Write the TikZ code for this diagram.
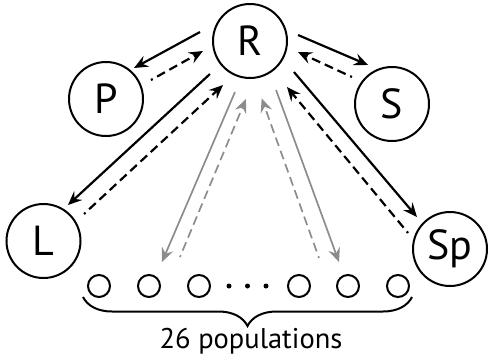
\documentclass[tikz,border=0pt]{standalone}
\usepackage{fontspec}
\setmainfont{PT Sans}
\usetikzlibrary{arrows.meta,decorations.pathreplacing}

\tikzset{
  agent/.style={circle, draw, line width=2pt, minimum size=74pt, inner sep=0pt,
    font=\fontsize{42}{42}\selectfont},
  pop/.style={circle, draw, line width=2pt, minimum size=22pt, inner sep=0pt},
  popdot/.style={circle, fill, minimum size=5pt, inner sep=0pt},
  flow/.style={line width=2.2pt, -{Stealth[length=14pt,width=12pt,inset=5pt]}},
  back/.style={flow, dash pattern=on 9pt off 5pt, dash phase=7pt},
  popflow/.style={flow, line width=1.7pt, draw=black!45},
  popback/.style={back, line width=1.7pt, draw=black!45}
}

\begin{document}
\begin{tikzpicture}[x=1pt, y=-1pt]
    \useasboundingbox (0,0) rectangle (489,362);

    % Resource and the four consumers
    \node[agent] (R) at (250,41) {R};
    \node[agent] (P) at (106,99) {P};
    \node[agent] (S) at (392,104) {S};
    \node[agent] (L) at (43.5,241) {L};
    \node[agent] (Sp) at (450,249) {Sp};

    % Row of populations
    \foreach \x [count=\i] in {99,149,199,299,348,398} {
        \node[pop] (pop\i) at (\x,286) {};
    }
    \foreach \x [count=\i] in {229,247.5,266} {
        \node[popdot] (dot\i) at (\x,286) {};
    }

    % R <-> P
    \draw[flow] ([shift={(169.8:50.8pt)}]R.center) -- ([shift={(47.9:41.8pt)}]P.center);
    \draw[back] ([shift={(22.9:48.8pt)}]P.center) -- ([shift={(192:48.1pt)}]R.center);

    % R <-> S
    \draw[flow] ([shift={(7.1:48.4pt)}]R.center) -- ([shift={(121.6:45.8pt)}]S.center);
    \draw[back] ([shift={(146:48.3pt)}]S.center) -- ([shift={(347.1:49.2pt)}]R.center);

    % R <-> L
    \draw[flow] ([shift={(219.5:51.9pt)}]R.center) -- ([shift={(55.8:43.5pt)}]L.center);
    \draw[back] ([shift={(33.7:48.7pt)}]L.center) -- ([shift={(238.5:51.6pt)}]R.center);

    % R <-> Sp
    \draw[flow] ([shift={(324.8:53.8pt)}]R.center) -- ([shift={(135.9:46pt)}]Sp.center);
    \draw[back] ([shift={(159.1:44.9pt)}]Sp.center) -- ([shift={(308.8:59pt)}]R.center);

    % R <-> populations
    \draw[popflow] ([shift={(253.6:53.2pt)}]R.center) -- ([shift={(61.6:27.3pt)}]pop2.center);
    \draw[popback] ([shift={(43.1:42.4pt)}]pop2.center) -- ([shift={(266:58.1pt)}]R.center);
    \draw[popflow] ([shift={(298:55.5pt)}]R.center) -- ([shift={(110.6:25.6pt)}]pop5.center);
    \draw[popback] ([shift={(136:40.3pt)}]pop5.center) -- ([shift={(281.5:58.5pt)}]R.center);

    % Brace and label
    \draw[line width=2pt, decorate, decoration={brace, mirror, amplitude=29pt}]
        ([shift={(-16pt,-11pt)}]pop1.center) -- ([shift={(14pt,-11pt)}]pop6.center);
    \node[anchor=base, font=\fontsize{28.5}{28.5}\selectfont] (lab) at (251,348) {26 populations};
\end{tikzpicture}
\end{document}
